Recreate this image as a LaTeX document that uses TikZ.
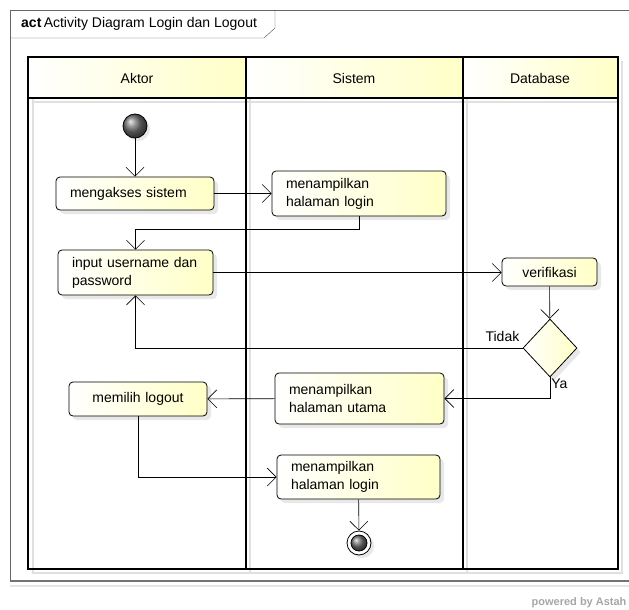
\documentclass[tikz,border=0pt]{standalone}
\usepackage{fontspec}
\setmainfont{Liberation Sans}
\usetikzlibrary{arrows.meta}
\usetikzlibrary{shapes.geometric}
\usetikzlibrary{shadows}

\begin{document}
\begin{tikzpicture}[x=1pt, y=-1pt,
  every node/.style={font=\fontsize{14}{18}\selectfont},
  action/.style={draw, thick, rounded corners=4pt, left color=white, right color=yellow!22,
    drop shadow={shadow xshift=4pt, shadow yshift=-4pt, fill=black!18},
    align=left, inner xsep=14pt, inner ysep=0pt},
  flow/.style={semithick, -{Straight Barb[length=9pt, width=18pt]}},
  lane/.style={line width=1.6pt},
  lanegray/.style={line width=1.6pt, black!12},
]

\useasboundingbox (0,0) rectangle (629,610);

% frame
\draw[black!60] (10,581) -- (10,10) -- (640,10);
\draw[black!55, line width=1.2pt] (10,581) -- (640,581);
\draw[black!10, line width=1.2pt] (10,586) -- (640,586);
\draw[black!70] (10,38) -- (264,38) -- (275,28) -- (275,10);
\node[anchor=west, inner sep=0pt] (title) at (21,24) {\textbf{act}\,Activity Diagram Login dan Logout};

% swimlanes
\draw[lanegray] (33,98) -- (33,573) -- (622,573) -- (622,61);
\draw[lanegray] (250,61) -- (250,573);
\draw[lanegray] (467,61) -- (467,573);
\draw[lanegray] (33,102) -- (618,102);
\shade[left color=white, right color=yellow!22] (28,57) rectangle (246,98);
\shade[left color=white, right color=yellow!22] (246,57) rectangle (463,98);
\shade[left color=white, right color=yellow!22] (463,57) rectangle (618,98);
\draw[lane] (28,57) rectangle (618,569);
\draw[lane] (28,98) -- (618,98);
\draw[lane] (246,57) -- (246,569);
\draw[lane] (463,57) -- (463,569);
\node (aktor) at (137,78) {Aktor};
\node (sistem) at (354,78) {Sistem};
\node (database) at (540,78) {Database};

% nodes
\node[circle, draw, thick, minimum size=24pt, inner sep=0pt, ball color=black!55,
  drop shadow={shadow xshift=3pt, shadow yshift=-3pt, fill=black!18}] (start) at (135,126) {};
\node[action, minimum width=158pt, minimum height=33pt, text width=130pt] (akses) at (135,193.5) {mengakses sistem};
\node[action, minimum width=174pt, minimum height=45pt, text width=146pt] (login1) at (359,193.5) {menampilkan\\halaman login};
\node[action, minimum width=155pt, minimum height=45pt, text width=127pt] (input) at (135.5,272.5) {input username dan\\password};
\node[action, minimum width=95pt, minimum height=28pt, text width=67pt, align=center] (verif) at (549.5,272) {verifikasi};
\node[diamond, draw, thick, minimum width=54pt, minimum height=58pt, inner sep=0pt,
  left color=white, right color=yellow!22,
  drop shadow={shadow xshift=4pt, shadow yshift=-4pt, fill=black!18}] (cek) at (550,348) {};
\node[action, minimum width=169pt, minimum height=51pt, text width=141pt] (utama) at (359.5,398.5) {menampilkan\\halaman utama};
\node[action, minimum width=138pt, minimum height=34pt, text width=110pt, align=center] (logout) at (138,399) {memilih logout};
\node[action, minimum width=163pt, minimum height=44pt, text width=135pt] (login2) at (358.5,477) {menampilkan\\halaman login};
\node[circle, draw, thick, minimum size=24pt, inner sep=0pt, fill=white,
  drop shadow={shadow xshift=3pt, shadow yshift=-3pt, fill=black!18}] (akhir) at (359,543) {};
\draw[thick, ball color=black!55] (akhir.center) circle (8pt);

% edges
\draw[flow] (start) -- (akses);
\draw[flow] (akses) -- (login1);
\draw[flow] (login1.south) -- ++(0,13) -| (input.north);
\draw[flow] (input.east) -- (input.east -| verif.west);
\draw[flow] (verif) -- (cek);
\draw[flow] (cek.west) -| (input.south) node[pos=0, anchor=south east, xshift=-3pt, yshift=6pt, inner sep=0pt] (tidak) {Tidak};
\draw[flow] (cek.south) |- (utama.east) node[pos=0, below right, inner sep=1pt] (ya) {Ya};
\draw[flow] (utama) -- (logout);
\draw[flow] (logout.south) |- (login2.west);
\draw[flow] (login2) -- (akhir);

\node[anchor=east, black!35, font=\fontsize{11}{13}\selectfont\bfseries] (astah) at (630,603) {powered by Astah};

\end{tikzpicture}
\end{document}
